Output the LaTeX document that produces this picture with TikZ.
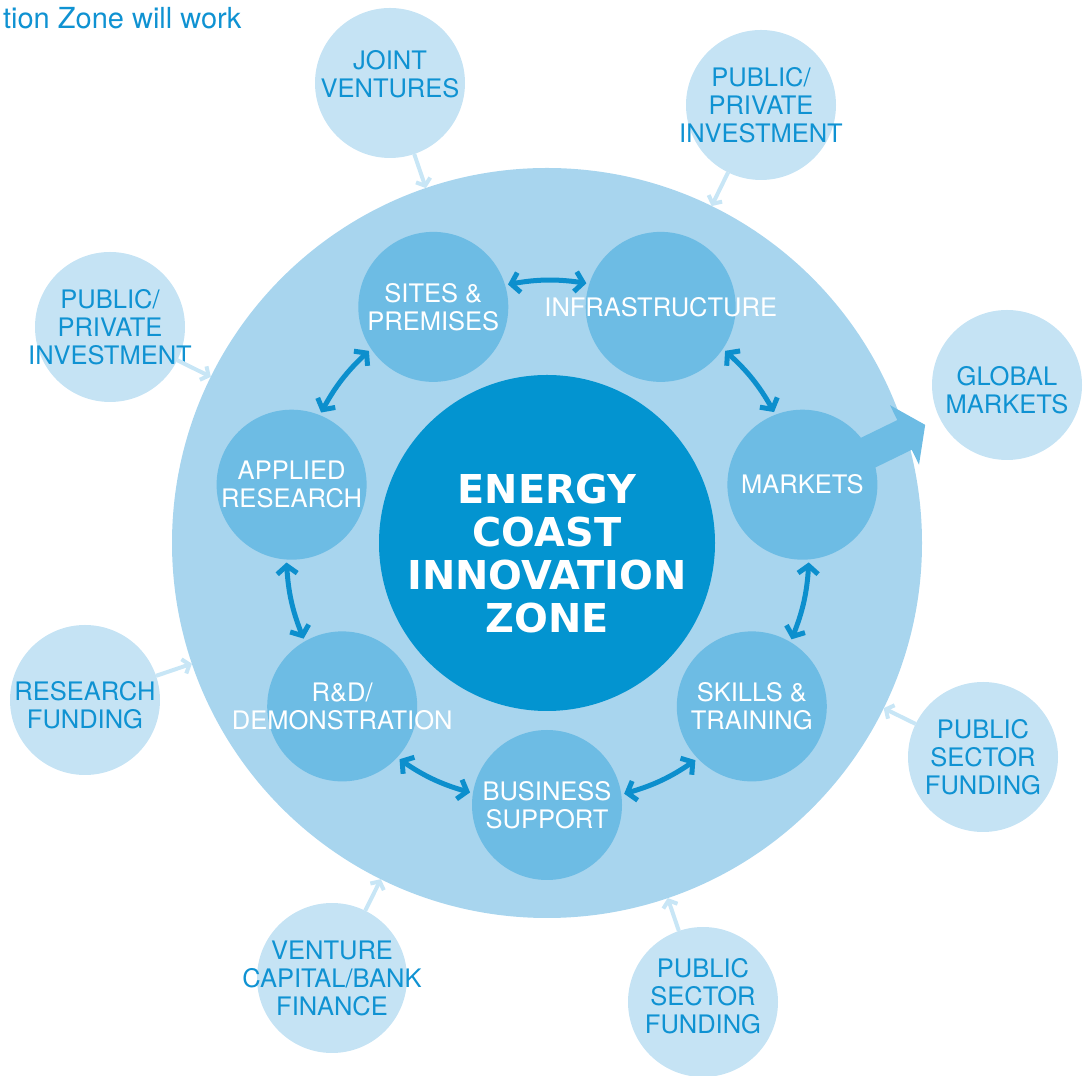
\documentclass[tikz,border=0pt]{standalone}
\usepackage{fontspec}
\setmainfont{TeX Gyre Heros}
\newfontfamily\corefont{DejaVu Sans}
\usepackage{tikz}
\usetikzlibrary{arrows.meta}

\definecolor{ringblue}{HTML}{A8D5EE}
\definecolor{topicblue}{HTML}{6DBCE4}
\definecolor{coreblue}{HTML}{0394D0}
\definecolor{sourceblue}{HTML}{C5E3F4}
\definecolor{textblue}{HTML}{0F92D2}
\definecolor{linkblue}{HTML}{0C8FCD}
\definecolor{feedblue}{HTML}{C8E6F6}

\newcommand\labelsize{\fontsize{25.5}{28}\selectfont}

\tikzset{
  zone/.style={circle,fill=ringblue,minimum size=750pt,inner sep=0pt,outer sep=0pt},
  core/.style={circle,fill=coreblue,minimum size=336pt,inner sep=0pt,outer sep=0pt,
    label={[coretext,yshift=-11pt]center:{#1}}},
  coretext/.style={text=white,align=center,font=\corefont\bfseries\fontsize{39.8}{43}\selectfont},
  topic/.style={circle,fill=topicblue,minimum size=150pt,inner sep=0pt,outer sep=0pt,
    label={[topictext]center:{#1}}},
  topictext/.style={text=white,align=center,font=\labelsize},
  source/.style n args={2}{circle,fill=sourceblue,minimum size=150pt,inner sep=0pt,outer sep=0pt,
    label={[srctext,yshift=#2]center:{#1}}},
  srctext/.style={text=textblue,align=center,font=\labelsize},
  heading/.style={text=textblue,font=\fontsize{29}{32}\selectfont},
  link/.style={draw=linkblue,line width=5pt,
    {Straight Barb[length=8pt,width=20pt]}-{Straight Barb[length=8pt,width=20pt]},
    shorten <=3pt,shorten >=3pt,bend left=9.2},
  feed/.style={draw=feedblue,line width=4pt,-{Straight Barb[length=6pt,width=15pt]}},
  export/.style={draw=topicblue,line width=33pt,-{Triangle[length=23pt,width=65pt]},shorten >=16pt}
}

\begin{document}
\begin{tikzpicture}[x=1pt,y=1pt]
            \useasboundingbox (0,0) rectangle (1090,1076);
            \node[heading,anchor=base east] (title) at (245,1047) {tion Zone will work};

            \node[zone] (ring) at (547,533) {};

            \node[source={JOINT\\VENTURES}{9pt}] (jv) at (390,993) {};
            \node[source={PUBLIC/\\PRIVATE\\INVESTMENT}{0pt}] (ppitop) at (761,971) {};
            \node[source={PUBLIC/\\PRIVATE\\INVESTMENT}{0pt}] (ppileft) at (110,749) {};
            \node[source={GLOBAL\\MARKETS}{-5pt}] (gm) at (1007,691) {};
            \node[source={RESEARCH\\FUNDING}{-5pt}] (rf) at (85,376) {};
            \node[source={PUBLIC\\SECTOR\\FUNDING}{0pt}] (psfright) at (983,319) {};
            \node[source={VENTURE\\CAPITAL/BANK\\FINANCE}{0pt}] (vcb) at (332,98) {};
            \node[source={PUBLIC\\SECTOR\\FUNDING}{6pt}] (psfbottom) at (703,74) {};

            \draw[feed] (jv) -- (ring);
            \draw[feed] (ppitop) -- (ring);
            \draw[feed] (ppileft) -- (ring);
            \draw[feed] (rf) -- (ring);
            \draw[feed] (psfright) -- (ring);
            \draw[feed] (vcb) -- (ring);
            \draw[feed] (psfbottom) -- (ring);

            \coordinate (mkc) at (802.4,591.3);
            \draw[export] (mkc) -- (gm);

            \node[core={ENERGY\\COAST\\INNOVATION\\ZONE}] (eciz) at (547,533) {};

            \node[topic={SITES \&\\PREMISES}] (sp) at (433.3,769.1) {};
            \node[topic={INFRASTRUCTURE}] (infra) at (660.7,769.1) {};
            \node[topic={MARKETS}] (mk) at (mkc) {};
            \node[topic={SKILLS \&\\TRAINING}] (st) at (751.8,369.6) {};
            \node[topic={BUSINESS\\SUPPORT}] (bs) at (547,271) {};
            \node[topic={R\&D/\\DEMONSTRATION}] (rd) at (342.2,369.6) {};
            \node[topic={APPLIED\\RESEARCH}] (ar) at (291.6,591.3) {};

            \draw[link] (sp.17.5) to (infra.162.5);
            \draw[link] (infra.-34) to (mk.111);
            \draw[link] (mk.-85.4) to (st.59.7);
            \draw[link] (st.-136.8) to (bs.8.3);
            \draw[link] (bs.171.8) to (rd.-43.2);
            \draw[link] (rd.120.3) to (ar.-94.6);
            \draw[link] (ar.68.9) to (sp.-146);
\end{tikzpicture}
\end{document}
